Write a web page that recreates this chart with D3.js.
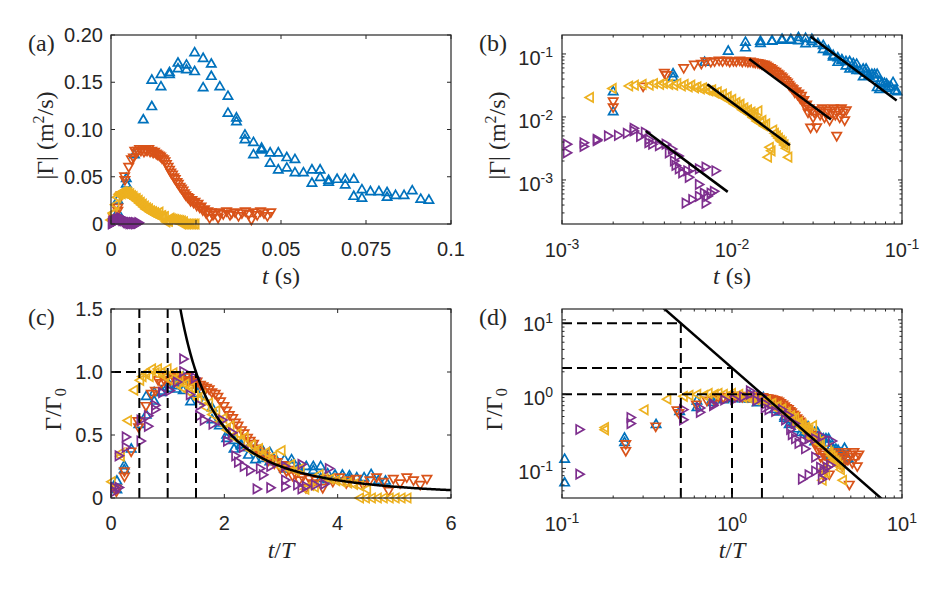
<!DOCTYPE html>
<html>
<head>
<meta charset="utf-8">
<script src="https://cdn.jsdelivr.net/npm/d3@7/dist/d3.min.js"></script>
<style>
body { margin: 0; background: #fff; }
text { fill: #262626; }
.tick { font-family: "Liberation Sans", Arial, sans-serif; font-size: 20px; }
.lbl { font-family: "Liberation Serif", "Times New Roman", serif; font-size: 24px; }
</style>
</head>
<body>
<svg id="fig" width="938" height="594"></svg>
<script>
// raw time series, [t (s), |Gamma| (m^2/s)] (a) and (b)
var blueData = [[0.0020,0.025],[0.0020,0.012],[0.0045,0.048],[0.0045,0.042],[0.0069,0.073],[0.0095,0.110],
  [0.0120,0.124],[0.0120,0.152],[0.0147,0.158],[0.0147,0.145],[0.0172,0.160],[0.0172,0.158],[0.0197,0.170],
  [0.0197,0.164],[0.0222,0.168],[0.0222,0.163],[0.0246,0.161],[0.0246,0.181],[0.0271,0.175],[0.0271,0.144],
  [0.0295,0.169],[0.0295,0.156],[0.0320,0.145],[0.0344,0.135],[0.0344,0.117],[0.0369,0.108],[0.0369,0.112],
  [0.0394,0.094],[0.0394,0.089],[0.0419,0.086],[0.0419,0.073],[0.0443,0.080],[0.0443,0.078],[0.0468,0.075],
  [0.0468,0.064],[0.0492,0.075],[0.0492,0.057],[0.0517,0.070],[0.0517,0.059],[0.0541,0.068],[0.0541,0.054],
  [0.0566,0.054],[0.0591,0.057],[0.0591,0.043],[0.0615,0.057],[0.0615,0.049],[0.0640,0.044],[0.0640,0.046],
  [0.0665,0.047],[0.0689,0.047],[0.0689,0.041],[0.0714,0.047],[0.0714,0.029],[0.0738,0.036],[0.0738,0.027],
  [0.0763,0.034],[0.0788,0.034],[0.0812,0.033],[0.0812,0.028],[0.0837,0.030],[0.0862,0.030],[0.0886,0.035],
  [0.0911,0.026],[0.0935,0.025]];

var orangeData = [[0.0008,0.0066],[0.0008,0.0046],[0.0020,0.018],[0.0020,0.0145],[0.0030,0.031],[0.0040,0.051],
  [0.0041,0.047],[0.0052,0.061],[0.0060,0.069],[0.0066,0.071],[0.0070,0.078],[0.0075,0.076],[0.0079,0.078],
  [0.0084,0.080],[0.0088,0.078],[0.0093,0.080],[0.0097,0.077],[0.0102,0.079],[0.0106,0.078],[0.0111,0.080],
  [0.0115,0.077],[0.0120,0.078],[0.0124,0.076],[0.0128,0.077],[0.0133,0.075],[0.0137,0.074],[0.0142,0.073],
  [0.0146,0.072],[0.0150,0.070],[0.0155,0.069],[0.0159,0.067],[0.0163,0.064],[0.0168,0.061],[0.0172,0.058],
  [0.0176,0.055],[0.0181,0.053],[0.0185,0.050],[0.0189,0.048],[0.0194,0.045],[0.0198,0.043],[0.0203,0.040],
  [0.0207,0.038],[0.0212,0.036],[0.0216,0.033],[0.0220,0.031],[0.0225,0.029],[0.0229,0.028],[0.0234,0.025],
  [0.0238,0.026],[0.0243,0.023],[0.0247,0.024],[0.0252,0.020],[0.0256,0.022],[0.0261,0.018],[0.0265,0.019],
  [0.0270,0.015],[0.0275,0.016],[0.0280,0.012],[0.0285,0.014],[0.0290,0.0069],[0.0295,0.013],[0.0300,0.010],
  [0.0305,0.012],[0.0315,0.0070],[0.0320,0.013],[0.0330,0.011],[0.0340,0.014],[0.0350,0.010],[0.0355,0.012],
  [0.0365,0.013],[0.0375,0.009],[0.0385,0.012],[0.0395,0.014],[0.0405,0.011],[0.0413,0.0051],[0.0420,0.013],
  [0.0430,0.010],[0.0440,0.014],[0.0450,0.012],[0.0460,0.009],[0.0470,0.013]];

var yellowData = [[0.0001,0.0043],[0.00086,0.0118],[0.00086,0.011],[0.00147,0.0204],[0.0020,0.0284],[0.0025,0.031],
  [0.0027,0.032],[0.0030,0.033],[0.0033,0.032],[0.0035,0.034],[0.0038,0.033],[0.0040,0.034],[0.0043,0.033],
  [0.0046,0.032],[0.0048,0.034],[0.0051,0.031],[0.0053,0.033],[0.0056,0.030],[0.0058,0.032],[0.0061,0.029],
  [0.0063,0.030],[0.0066,0.028],[0.0068,0.029],[0.0071,0.027],[0.0074,0.026],[0.0077,0.027],[0.0080,0.024],
  [0.0083,0.025],[0.0086,0.022],[0.0089,0.023],[0.0092,0.020],[0.0095,0.021],[0.0098,0.018],[0.0101,0.019],
  [0.0104,0.016],[0.0107,0.017],[0.0110,0.015],[0.0113,0.016],[0.0116,0.013],[0.0119,0.014],[0.0122,0.012],
  [0.0125,0.013],[0.0128,0.011],[0.0131,0.012],[0.0134,0.0098],[0.0137,0.011],[0.0141,0.0086],[0.0144,0.0125],
  [0.0148,0.0080],[0.0152,0.0088],[0.0156,0.0072],[0.0160,0.0078],[0.0164,0.0023],[0.0168,0.0033],
  [0.0172,0.0029],[0.0176,0.0062],[0.0180,0.0055],[0.0185,0.0050],[0.0190,0.0046],[0.0195,0.0042],
  [0.0200,0.0040],[0.0205,0.0036],[0.0210,0.0032],[0.0216,0.0023],[0.0210,0],[0.0215,0],[0.0220,0],
  [0.0225,0],[0.0230,0],[0.0235,0],[0.0240,0],[0.0245,0],[0.0250,0]];

var purpleData = [[0.0001,0.0003],[0.0001,0.0005],[0.00026,0.0020],[0.00026,0.0005],[0.00052,0.0029],
  [0.00052,0.0024],[0.00106,0.0037],[0.00106,0.0027],[0.00133,0.0039],[0.00133,0.0034],[0.00159,0.0044],
  [0.00159,0.0042],[0.00185,0.0050],[0.00212,0.0051],[0.00239,0.0055],[0.00262,0.0066],[0.00262,0.0060],
  [0.00286,0.0049],[0.00305,0.0057],[0.00320,0.0039],[0.00322,0.0044],[0.00337,0.0037],[0.00369,0.0035],
  [0.00404,0.0037],[0.00422,0.0027],[0.0044,0.0031],[0.00452,0.0020],[0.00462,0.0017],[0.0048,0.0024],
  [0.00483,0.0015],[0.00506,0.0013],[0.00542,0.0014],[0.0058,0.0015],[0.00634,0.0015],[0.00694,0.0016],
  [0.00794,0.0014],[0.00553,0.0011],[0.00634,0.00085],[0.0053,0.00043],[0.0058,0.00049],[0.00634,0.00055],
  [0.00678,0.00062],[0.0071,0.00055],[0.00743,0.00062],[0.00777,0.00066],[0.00694,0.00043]];

// per-series normalisation (T, Gamma_0) and end of the -2 fit in (b)
var seriesData = [blueData, orangeData, yellowData, purpleData];
var seriesColor = ["#0072BD", "#D95319", "#EDB120", "#7E2F8E"];
var seriesRot = [0, 180, -90, 90];   // up, down, left, right triangles
var peakT = [0.0193, 0.00843, 0.00477, 0.00207];
var peakG = [0.189, 0.083, 0.0332, 0.00598];
var fitEnd = [0.093, 0.0382, 0.0219, 0.00944];

// power law Gamma/Gamma_0 = 2.25 (t/T)^-2 and the marked times
var fitCoef = 2.25, fitExp = -2;
var markTimes = [0.5, 1, 1.5];

var aTicksX = [0, 0.025, 0.05, 0.075, 0.1], aLabelsX = ["0", "0.025", "0.05", "0.075", "0.1"];
var aTicksY = [0, 0.05, 0.1, 0.15, 0.2], aLabelsY = ["0", "0.05", "0.10", "0.15", "0.20"];
var cTicksX = [0, 2, 4, 6], cLabelsX = ["0", "2", "4", "6"];
var cTicksY = [0, 0.5, 1, 1.5], cLabelsY = ["0", "0.5", "1.0", "1.5"];

var svg = d3.select("#fig");
var tri = d3.symbol().type(d3.symbolTriangle).size(37)();

function panel(id, x0, y0, w, h, xs, ys) {
  var g = svg.append("g");
  svg.append("defs").append("clipPath").attr("id", "clip" + id)
    .append("rect").attr("x", x0).attr("y", y0).attr("width", w).attr("height", h);
  return {g: g, x0: x0, y0: y0, w: w, h: h, x: xs.range([x0, x0 + w]), y: ys.range([y0 + h, y0]), id: id};
}

function frame(p) {
  p.g.append("rect").attr("x", p.x0).attr("y", p.y0).attr("width", p.w).attr("height", p.h)
    .attr("fill", "none").attr("stroke", "#262626").attr("stroke-width", 1.2);
}

function tickMarks(p, xv, yv, len) {
  var b = p.y0 + p.h, r = p.x0 + p.w;
  xv.forEach(function (v) {
    var x = p.x(v);
    p.g.append("line").attr("x1", x).attr("x2", x).attr("y1", b).attr("y2", b - len).attr("stroke", "#262626");
    p.g.append("line").attr("x1", x).attr("x2", x).attr("y1", p.y0).attr("y2", p.y0 + len).attr("stroke", "#262626");
  });
  yv.forEach(function (v) {
    var y = p.y(v);
    p.g.append("line").attr("x1", p.x0).attr("x2", p.x0 + len).attr("y1", y).attr("y2", y).attr("stroke", "#262626");
    p.g.append("line").attr("x1", r).attr("x2", r - len).attr("y1", y).attr("y2", y).attr("stroke", "#262626");
  });
}

function linAxes(p, tx, lx, ty, ly) {
  tickMarks(p, tx, ty, 4);
  tx.forEach(function (v, i) {
    p.g.append("text").attr("class", "tick").attr("x", p.x(v)).attr("y", p.y0 + p.h + 32)
      .attr("text-anchor", "middle").text(lx[i]);
  });
  ty.forEach(function (v, i) {
    p.g.append("text").attr("class", "tick").attr("x", p.x0 - 8).attr("y", p.y(v) + 7)
      .attr("text-anchor", "end").text(ly[i]);
  });
}

function minors(dom) {
  var out = [];
  for (var e = Math.floor(Math.log10(dom[0])); e <= Math.ceil(Math.log10(dom[1])); e++)
    for (var k = 2; k <= 9; k++) {
      var v = k * Math.pow(10, e);
      if (v > dom[0] && v < dom[1]) out.push(v);
    }
  return out;
}

function powLabel(p, x, y, e, anchor) {
  var t = p.g.append("text").attr("class", "tick").attr("x", x).attr("y", y).attr("text-anchor", anchor);
  t.append("tspan").text("10");
  t.append("tspan").attr("dy", -8).attr("font-size", 14).text(e);
}

function logAxes(p, ex, ey) {
  tickMarks(p, ex.map(function (e) { return Math.pow(10, e); }), ey.map(function (e) { return Math.pow(10, e); }), 4);
  tickMarks(p, minors(p.x.domain()), minors(p.y.domain()), 2.5);
  ex.forEach(function (e) { powLabel(p, p.x(Math.pow(10, e)), p.y0 + p.h + 33, e, "middle"); });
  ey.forEach(function (e) { powLabel(p, p.x0 - 9, p.y(Math.pow(10, e)) + 11, e, "end"); });
}

function titles(p, letter, xt, yt, yx) {
  p.g.append("text").attr("class", "lbl").attr("font-size", 22).attr("x", p.x0 - 83).attr("y", p.y0 + 16).text("(" + letter + ")");
  var tx = p.g.append("text").attr("class", "lbl").attr("text-anchor", "middle")
    .attr("x", p.x0 + p.w / 2).attr("y", p.y0 + p.h + 60);
  xt(tx);
  var ty = p.g.append("text").attr("class", "lbl").attr("text-anchor", "middle")
    .attr("transform", "translate(" + yx + "," + (p.y0 + p.h / 2 + 6) + ") rotate(-90)");
  yt(ty);
}

function tTitle(t) { t.append("tspan").attr("font-style", "italic").text("t"); t.append("tspan").text(" (s)"); }
function tTTitle(t) {
  t.append("tspan").attr("font-style", "italic").text("t");
  t.append("tspan").text("/");
  t.append("tspan").attr("font-style", "italic").text("T");
}
function gTitle(t) {
  t.append("tspan").text("|Γ| (m");
  t.append("tspan").attr("dy", -9).attr("font-size", 16).text("2");
  t.append("tspan").attr("dy", 9).text("/s)");
}
function gnTitle(t) {
  t.append("tspan").text("Γ/Γ");
  t.append("tspan").attr("dy", 5).attr("font-size", 16).text("0");
}

function markers(p, fx, fy) {
  seriesData.forEach(function (data, i) {
    var pts = data.map(function (d) { return [fx(d, i), fy(d, i)]; }).filter(function (d) {
      var xd = p.x.domain(), yd = p.y.domain();
      return d[0] >= xd[0] && d[0] <= xd[1] && d[1] >= yd[0] && d[1] <= yd[1];
    });
    p.g.append("g").selectAll("path").data(pts).enter().append("path")
      .attr("d", tri)
      .attr("transform", function (d) { return "translate(" + p.x(d[0]) + "," + p.y(d[1]) + ") rotate(" + seriesRot[i] + ")"; })
      .attr("fill", "none").attr("stroke", seriesColor[i]).attr("stroke-width", 1.7);
  });
}

var raw = function (d) { return d[0]; }, rawG = function (d) { return d[1]; };
var nT = function (d, i) { return d[0] / peakT[i]; }, nG = function (d, i) { return d[1] / peakG[i]; };
var law = function (x) { return fitCoef * Math.pow(x, fitExp); };

// (a)
var pa = panel("a", 111, 35, 340, 189, d3.scaleLinear().domain([0, 0.1]), d3.scaleLinear().domain([0, 0.2]));
markers(pa, raw, rawG);
frame(pa);
linAxes(pa, aTicksX, aLabelsX, aTicksY, aLabelsY);
titles(pa, "a", tTitle, gTitle, 53);

// (b)
var pb = panel("b", 562, 35, 340, 189, d3.scaleLog().domain([1e-3, 1e-1]), d3.scaleLog().domain([2e-4, 0.2]));
markers(pb, raw, rawG);
var lb = pb.g.append("g").attr("clip-path", "url(#clipb)");
peakT.forEach(function (T, i) {
  var ends = [1.5 * T, fitEnd[i]].map(function (t) { return [t, peakG[i] * law(t / T)]; });
  lb.append("path").attr("d", d3.line().x(function (d) { return pb.x(d[0]); }).y(function (d) { return pb.y(d[1]); })(ends))
    .attr("fill", "none").attr("stroke", "#000").attr("stroke-width", 2.5);
});
frame(pb);
logAxes(pb, [-3, -2, -1], [-3, -2, -1]);
titles(pb, "b", tTitle, gTitle, 505);

function guides(p) {
  var lg = p.g.append("g").attr("clip-path", "url(#clip" + p.id + ")");
  var xmin = p.x.domain()[0], ymin = p.y.domain()[0];
  markTimes.forEach(function (m) {
    var v = law(m);
    lg.append("line").attr("x1", p.x(m)).attr("x2", p.x(m)).attr("y1", p.y(ymin)).attr("y2", p.y(v))
      .attr("stroke", "#000").attr("stroke-width", 2).attr("stroke-dasharray", "10,5");
    lg.append("line").attr("x1", p.x(xmin)).attr("x2", p.x(m)).attr("y1", p.y(v)).attr("y2", p.y(v))
      .attr("stroke", "#000").attr("stroke-width", 2).attr("stroke-dasharray", "10,5");
  });
  return lg;
}

// (c)
var pc = panel("c", 111, 309, 340, 189, d3.scaleLinear().domain([0, 6]), d3.scaleLinear().domain([0, 1.5]));
markers(pc, nT, nG);
var lc = guides(pc);
var cx = d3.range(1.2, 6.001, 0.02);
lc.append("path").attr("d", d3.line().x(function (x) { return pc.x(x); }).y(function (x) { return pc.y(law(x)); })(cx))
  .attr("fill", "none").attr("stroke", "#000").attr("stroke-width", 2.5);
frame(pc);
linAxes(pc, cTicksX, cLabelsX, cTicksY, cLabelsY);
titles(pc, "c", tTTitle, gnTitle, 61);

// (d)
var pd = panel("d", 562, 309, 340, 189, d3.scaleLog().domain([0.1, 10]), d3.scaleLog().domain([0.04, 14]));
markers(pd, nT, nG);
var ld = guides(pd);
ld.append("path").attr("d", d3.line().x(function (x) { return pd.x(x); }).y(function (x) { return pd.y(law(x)); })([0.1, 10]))
  .attr("fill", "none").attr("stroke", "#000").attr("stroke-width", 2.5);
frame(pd);
logAxes(pd, [-1, 0, 1], [-1, 0, 1]);
titles(pd, "d", tTTitle, gnTitle, 502);
</script>
</body>
</html>
